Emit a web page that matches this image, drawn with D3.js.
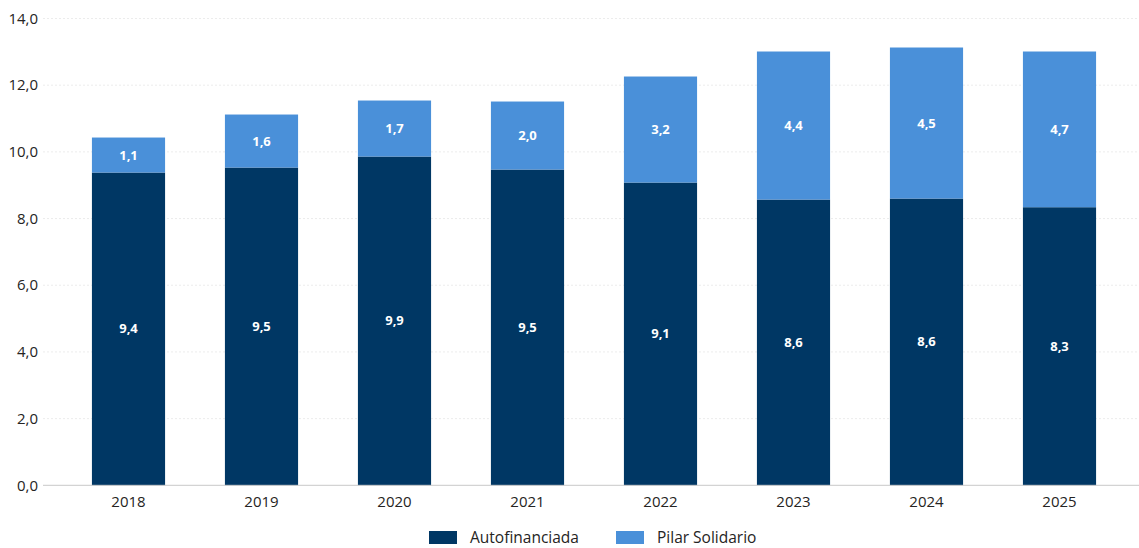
<!DOCTYPE html>
<html>
<head>
<meta charset="utf-8">
<script src="https://cdn.jsdelivr.net/npm/d3@7"></script>
<style>
  body { margin: 0; background: #fff; }
  svg { font-family: "Open Sans", "Noto Sans", sans-serif; }
</style>
</head>
<body>
<div id="chart"></div>
<script>
(function () {

	var years = ["2018", "2019", "2020", "2021", "2022", "2023", "2024", "2025"];
	var autofinanciada = [9.38, 9.53, 9.86, 9.47, 9.08, 8.57, 8.60, 8.34];
	var pilarSolidario = [1.05, 1.59, 1.68, 2.04, 3.18, 4.44, 4.53, 4.67];
	var yTicks = [0, 2, 4, 6, 8, 10, 12, 14];
	var seriesNames = ["Autofinanciada", "Pilar Solidario"];
	var colors = ["#003764", "#4a90d9"];

	var width = 1139, height = 548;
	var plot = {left: 43, right: 1139, top: 18.5, bottom: 485.3};

	var svg = d3.select("#chart")
		.append("svg")
		.attr("width", width)
		.attr("height", height);

	var x = d3.scaleBand()
		.domain(years)
		.range([62, 1126])
		.paddingInner(0.45)
		.paddingOuter(0.225);

	var y = d3.scaleLinear()
		.domain([0, 14])
		.range([plot.bottom, plot.top]);

	var fmt = function (v) { return d3.format(".1f")(v).replace(".", ","); };

	// gridlines
	svg.append("g")
		.selectAll("line")
		.data(yTicks.filter(function (d) { return d > 0; }))
		.enter().append("line")
		.attr("x1", plot.left)
		.attr("x2", plot.right)
		.attr("y1", function (d) { return y(d); })
		.attr("y2", function (d) { return y(d); })
		.attr("stroke", "#ececec")
		.attr("stroke-dasharray", "2,2")
		.attr("stroke-width", 1);

	// y axis labels
	svg.append("g")
		.selectAll("text")
		.data(yTicks)
		.enter().append("text")
		.attr("x", 38)
		.attr("y", function (d) { return y(d); })
		.attr("dy", "0.35em")
		.attr("text-anchor", "end")
		.attr("font-size", 15)
		.attr("fill", "#252423")
		.text(fmt);

	var rows = years.map(function (yr, i) {
		return {year: yr, a: autofinanciada[i], p: pilarSolidario[i]};
	});
	var stack = d3.stack().keys(["a", "p"])(rows);

	var layers = svg.append("g")
		.selectAll("g")
		.data(stack)
		.enter().append("g")
		.attr("fill", function (d, i) { return colors[i]; });

	layers.selectAll("rect")
		.data(function (d) { return d; })
		.enter().append("rect")
		.attr("x", function (d) { return x(d.data.year); })
		.attr("width", x.bandwidth())
		.attr("y", function (d) { return y(d[1]); })
		.attr("height", function (d) { return y(d[0]) - y(d[1]); });

	layers.selectAll("text")
		.data(function (d) { return d; })
		.enter().append("text")
		.attr("x", function (d) { return x(d.data.year) + x.bandwidth() / 2; })
		.attr("y", function (d) { return (y(d[0]) + y(d[1])) / 2; })
		.attr("dy", "0.35em")
		.attr("text-anchor", "middle")
		.attr("font-size", 13)
		.attr("font-weight", "bold")
		.attr("fill", "#fff")
		.text(function (d) { return fmt(d[1] - d[0]); });

	// baseline
	svg.append("line")
		.attr("x1", plot.left)
		.attr("x2", plot.right)
		.attr("y1", plot.bottom)
		.attr("y2", plot.bottom)
		.attr("stroke", "#c8c8c8")
		.attr("stroke-width", 1);

	// x axis labels
	svg.append("g")
		.selectAll("text")
		.data(years)
		.enter().append("text")
		.attr("x", function (d) { return x(d) + x.bandwidth() / 2; })
		.attr("y", 502)
		.attr("dy", "0.35em")
		.attr("text-anchor", "middle")
		.attr("font-size", 15)
		.attr("fill", "#252423")
		.text(function (d) { return d; });

	// legend
	var legendX = [429, 616];
	var legend = svg.append("g")
		.selectAll("g")
		.data(seriesNames)
		.enter().append("g")
		.attr("transform", function (d, i) { return "translate(" + legendX[i] + ",531)"; });

	legend.append("rect")
		.attr("width", 28)
		.attr("height", 13)
		.attr("fill", function (d, i) { return colors[i]; });

	legend.append("text")
		.attr("x", 41)
		.attr("y", 7)
		.attr("dy", "0.35em")
		.attr("font-size", 15.5)
		.attr("fill", "#252423")
		.text(function (d) { return d; });

})();
</script>
</body>
</html>
